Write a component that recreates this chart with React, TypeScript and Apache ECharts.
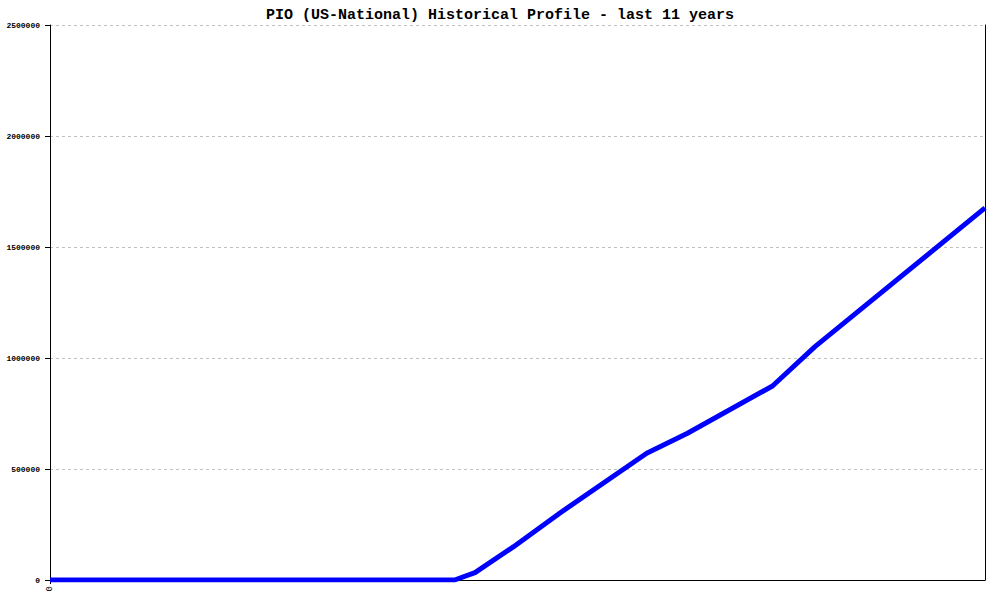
import React, { useEffect, useRef } from "react";
import * as echarts from "echarts";

const TITLE = "PIO (US-National) Historical Profile - last 11 years";
// x in years since start of the 11-year window
const years = [0, 4.76, 5.0, 5.45, 6.0, 7.02, 7.5, 8.5, 9.0, 11];
const counts = [0, 0, 33000, 149000, 302000, 571000, 661000, 874000, 1051000, 1676000];
const yTicks = [0, 500000, 1000000, 1500000, 2000000, 2500000];
const xTickValues = [0];
const xTickLabels = ["0"];

export default function App() {
  const ref = useRef<HTMLDivElement>(null);
  useEffect(() => {
    if (!ref.current) return;
    const chart = echarts.init(ref.current, undefined, { renderer: "svg" });
    const data = years.map((x, i) => [x, counts[i]]);
    chart.setOption({
      animation: false,
      backgroundColor: "#ffffff",
      title: {
        text: TITLE,
        left: "center",
        top: 3,
        textStyle: {
          fontFamily: "Liberation Mono",
          fontWeight: "bold",
          fontSize: 15,
          color: "#000",
        },
      },
      grid: { left: 50, right: 15, top: 25, bottom: 20, containLabel: false },
      xAxis: {
        type: "value",
        min: 0,
        max: 11,
        interval: 11,
        axisLine: { show: true, onZero: false, lineStyle: { color: "#000", width: 1 } },
        axisTick: {
          show: true,
          length: 4,
          lineStyle: { color: "#000" },
          customValues: xTickValues,
        },
        axisLabel: {
          rotate: 90,
          fontSize: 9,
          fontFamily: "Liberation Mono",
          color: "#000",
          margin: 6,
          customValues: xTickValues,
          formatter: (v: number) => xTickLabels[xTickValues.indexOf(v)] ?? "",
        },
        splitLine: { show: false },
      },
      yAxis: [
        {
          type: "value",
          min: yTicks[0],
          max: yTicks[yTicks.length - 1],
          interval: 500000,
          axisLine: { show: true, lineStyle: { color: "#000", width: 1 } },
          axisTick: { show: true, length: 5, lineStyle: { color: "#000" } },
          axisLabel: {
            fontSize: 8,
            fontFamily: "Liberation Mono",
            fontWeight: "bold",
            color: "#000",
            margin: 10,
            formatter: (v: number) => String(v),
          },
          splitLine: {
            show: true,
            lineStyle: { color: "#c0c0c0", type: [3, 3], width: 1 },
          },
        },
        {
          type: "value",
          position: "right",
          min: 0,
          max: 2500000,
          interval: 500000,
          axisLine: { show: true, lineStyle: { color: "#000", width: 1 } },
          axisTick: { show: false },
          axisLabel: { show: false },
          splitLine: { show: false },
        },
      ],
      series: [
        {
          type: "line",
          data,
          showSymbol: false,
          symbol: "none",
          lineStyle: { color: "#0000ff", width: 5 },
          z: 5,
        },
      ],
    });
    return () => chart.dispose();
  }, []);
  return (
    <div
      ref={ref}
      style={{ position: "fixed", left: 0, top: 0, width: 1000, height: 600 }}
    />
  );
}
